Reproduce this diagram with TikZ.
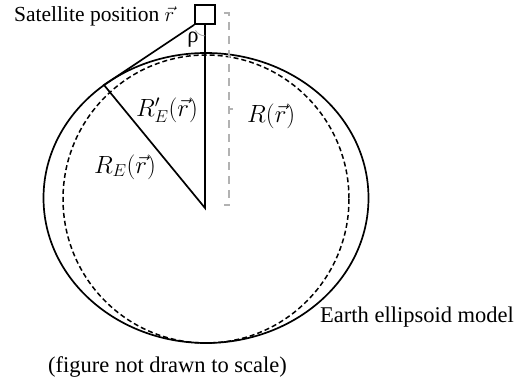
\documentclass[tikz,border=0pt]{standalone}
\usepackage{fontspec}
\setmainfont{Liberation Serif}
\begin{document}
\begin{tikzpicture}[x=1pt,y=-1pt,
  lbl/.style={inner sep=0pt, font=\fontsize{22.5}{27}\selectfont},
  mlbl/.style={inner sep=0pt, font=\fontsize{24}{28}\selectfont},
  line/.style={line width=1.7pt, black},
  grayd/.style={gray!60, line width=1.2pt, dash pattern=on 8pt off 6pt}]
\useasboundingbox (0,0) rectangle (520,385);
% ellipses
\draw[line] (206,198) ellipse [x radius=162.5, y radius=145];
\draw[line width=1.5pt, dash pattern=on 5pt off 3pt] (206,199) ellipse [x radius=143, y radius=144];
% satellite
\node[draw, line width=1.7pt, minimum width=20pt, minimum height=19pt, inner sep=0pt, fill=white] (sat) at (205,14.5) {};
\coordinate (O) at (205,208);
\coordinate (T) at (104,85);
\draw[line] (sat.south west) -- (T) -- (O) -- (sat.south);
% angle
\draw[gray!70, line width=0.8pt] ([shift={(150:11)}]sat.south) arc [start angle=150, end angle=90, radius=11];
\node[lbl] (rho) at (193,40) {ρ};
% dashed brace
\draw[grayd] (224,13) -- (229,13) -- (229,205) -- (224,205);
\draw[gray!60, line width=1.2pt] (229,109) -- (233,109);
% labels
\node[lbl, anchor=base west, font=\fontsize{21.5}{26}\selectfont] (satlbl) at (14,22) {Satellite position $\vec{r}$};
\node[mlbl] (rep) at (167,110) {$R'_E(\vec{r})$};
\node[mlbl] (re) at (125,167) {$R_E(\vec{r})$};
\node[mlbl, anchor=west] (rr) at (247,116) {$R(\vec{r})$};
\node[lbl, anchor=base west] (earth) at (320,322) {Earth ellipsoid model};
\node[lbl, anchor=base west] (note) at (48,372) {(figure not drawn to scale)};
\end{tikzpicture}
\end{document}
